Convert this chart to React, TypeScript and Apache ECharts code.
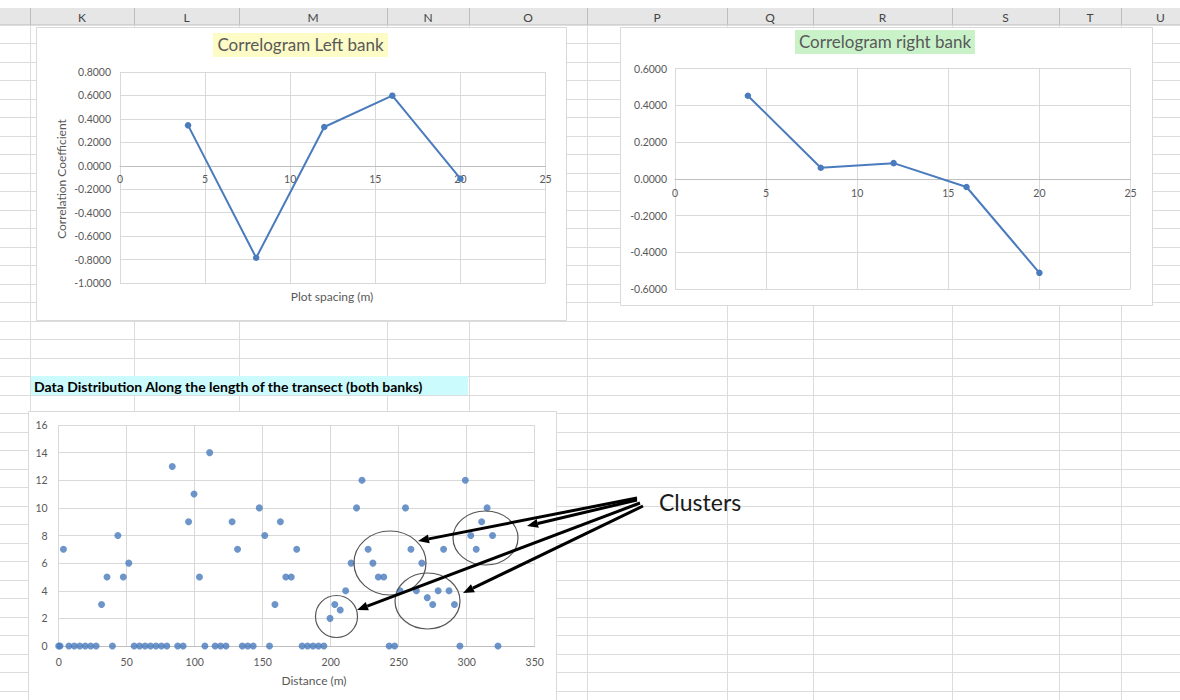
import React, { useEffect, useRef } from "react";
import * as echarts from "echarts";

// ---------- data ----------
const lagSpacing = [4, 8, 12, 16, 20];
const leftBankCorr = [0.345, -0.785, 0.331, 0.598, -0.11];
const rightBankCorr = [0.452, 0.06, 0.085, -0.045, -0.512];

const distance = [
  0, 1, 3.5, 7.5, 11.5, 15.5, 19.5, 23.5, 27.5, 31.5, 35.5, 39.5, 43.5, 47.5, 51.5,
  55.5, 59.5, 63.5, 67.5, 71.5, 75.5, 79.5, 83.5, 87.5, 91.5, 95.5, 99.5, 103.5, 107.5, 111,
  115, 119, 123, 127.5, 131.5, 135, 139, 143, 147.5, 151.5, 155, 159, 163, 167, 171,
  175, 179, 183, 187, 191, 195, 199.5, 203, 207, 211, 215, 219, 223, 227.5, 231,
  235, 239, 243, 247, 251, 255, 259, 263, 267, 271, 275, 279, 283, 287, 291,
  295, 299, 303, 307, 311, 315, 319, 323,
];
const countValue = [
  0, 0, 7, 0, 0, 0, 0, 0, 0, 3, 5, 0, 8, 5, 6,
  0, 0, 0, 0, 0, 0, 0, 13, 0, 0, 9, 11, 5, 0, 14,
  0, 0, 0, 9, 7, 0, 0, 0, 10, 8, 0, 3, 9, 5, 5,
  7, 0, 0, 0, 0, 0, 2, 3, 2.6, 4, 6, 10, 12, 7, 6,
  5, 5, 0, 0, 4, 10, 7, 4, 6, 3.5, 3, 4, 7, 4, 3,
  0, 12, 8, 7, 9, 10, 8, 0,
];

const columnLetters = ["K", "L", "M", "N", "O", "P", "Q", "R", "S", "T", "U"];

const titleLeft = "Correlogram Left bank";
const titleRight = "Correlogram right bank";
const titleScatter = "Data Distribution Along the length of the transect (both banks)";
const leftYName = "Correlation Coefficient";
const leftXName = "Plot spacing (m)";
const scatterXName = "Distance (m)";
const clusterLabel = "Clusters";

// ---------- layout ----------
const FONT = "Lato, 'Open Sans', sans-serif";
const BLUE = "#4a7bbd";
const LABEL = "#595959";
const colEdges = [30, 134, 239, 387, 469, 587, 727, 813, 952, 1059, 1121, 1200];

// grid geometry (pixels)
const G0 = { left: 120, top: 72, width: 425.5, height: 211 };
const G1 = { left: 675, top: 68.5, width: 455.5, height: 220.5 };
const G2 = { left: 58.7, top: 425, width: 476, height: 221 };
// offset that puts a bottom x axis on the y=0 line of a grid
const zeroOffset = (g: { top: number; height: number }, min: number, max: number) =>
  -(g.height * (0 - min)) / (max - min);

function arrow(x1: number, y1: number, x2: number, y2: number) {
  const ang = Math.atan2(y2 - y1, x2 - x1);
  const L = 11;
  const W = 4.5;
  const bx = x2 - L * Math.cos(ang);
  const by = y2 - L * Math.sin(ang);
  const px = -Math.sin(ang) * W;
  const py = Math.cos(ang) * W;
  return [
    { type: "line", z: 60, shape: { x1, y1, x2: bx, y2: by }, style: { stroke: "#000", lineWidth: 3 } },
    {
      type: "polygon",
      z: 60,
      shape: { points: [[x2, y2], [bx + px, by + py], [bx - px, by - py]] },
      style: { fill: "#000" },
    },
  ];
}

function sheetGraphics() {
  const g: any[] = [];
  g.push({ type: "rect", z: -30, shape: { x: 0, y: 0, width: 1180, height: 700 }, style: { fill: "#fff" } });
  g.push({ type: "rect", z: -29, shape: { x: 0, y: 8, width: 1180, height: 17 }, style: { fill: "#e6e6e6" } });
  g.push({ type: "line", z: -28, shape: { x1: 0, y1: 25, x2: 1180, y2: 25 }, style: { stroke: "#bdbdbd", lineWidth: 1 } });
  for (let k = 1; k < 37; k++) {
    const y = Math.round(24.5 + 18.5 * k) + 0.5;
    g.push({ type: "line", z: -28, shape: { x1: 0, y1: y, x2: 1180, y2: y }, style: { stroke: "#dcdcdc", lineWidth: 1 } });
  }
  colEdges.slice(0, -1).forEach((x) => {
    g.push({ type: "line", z: -28, shape: { x1: x + 0.5, y1: 8, x2: x + 0.5, y2: 25 }, style: { stroke: "#bdbdbd", lineWidth: 1 } });
    g.push({ type: "line", z: -28, shape: { x1: x + 0.5, y1: 25, x2: x + 0.5, y2: 700 }, style: { stroke: "#dcdcdc", lineWidth: 1 } });
  });
  columnLetters.forEach((c, i) => {
    g.push({
      type: "text",
      z: -27,
      x: (colEdges[i] + colEdges[i + 1]) / 2,
      y: 17,
      style: { text: c, fill: "#444", font: `12px ${FONT}`, align: "center", verticalAlign: "middle" },
    });
  });
  // chart areas
  const box = (x: number, y: number, w: number, h: number) => ({
    type: "rect",
    z: -20,
    shape: { x: x + 0.5, y: y + 0.5, width: w, height: h },
    style: { fill: "#fff", stroke: "#d9d9d9", lineWidth: 1 },
  });
  g.push(box(36, 27, 530, 293));
  g.push(box(620, 27, 532, 278));
  g.push(box(28, 411, 528, 300));
  // titles with highlight
  g.push({ type: "rect", z: -15, shape: { x: 213, y: 33, width: 175, height: 24 }, style: { fill: "#fdfbc6" } });
  g.push({
    type: "text", z: -14, x: 300.5, y: 44.5,
    style: { text: titleLeft, fill: LABEL, font: `17px ${FONT}`, align: "center", verticalAlign: "middle" },
  });
  g.push({ type: "rect", z: -15, shape: { x: 795, y: 30, width: 180, height: 24 }, style: { fill: "#c9f2c9" } });
  g.push({
    type: "text", z: -14, x: 885, y: 41.5,
    style: { text: titleRight, fill: LABEL, font: `17px ${FONT}`, align: "center", verticalAlign: "middle" },
  });
  g.push({ type: "rect", z: -15, shape: { x: 31, y: 376, width: 437, height: 19 }, style: { fill: "#ccfbfd" } });
  g.push({
    type: "text", z: -14, x: 34, y: 386,
    style: { text: titleScatter, fill: "#000", font: `bold 14px ${FONT}`, align: "left", verticalAlign: "middle" },
  });
  // axis titles
  g.push({
    type: "text", z: 5, x: 61, y: 179, rotation: Math.PI / 2,
    style: { text: leftYName, fill: LABEL, font: `12px ${FONT}`, align: "center", verticalAlign: "middle" },
  });
  g.push({
    type: "text", z: 5, x: 332, y: 296,
    style: { text: leftXName, fill: LABEL, font: `12px ${FONT}`, align: "center", verticalAlign: "middle" },
  });
  g.push({
    type: "text", z: 5, x: 314, y: 680,
    style: { text: scatterXName, fill: LABEL, font: `12px ${FONT}`, align: "center", verticalAlign: "middle" },
  });
  // cluster annotations
  const ell = (cx: number, cy: number, rx: number, ry: number) => ({
    type: "ellipse", z: 55, shape: { cx, cy, rx, ry },
    style: { fill: "none", stroke: "#555", lineWidth: 1.2 },
  });
  g.push(ell(336.5, 616.5, 21, 21));
  g.push(ell(390, 563, 36, 32));
  g.push(ell(427.5, 601, 32.5, 28));
  g.push(ell(485.5, 538, 32.5, 27));
  g.push(...arrow(637, 498, 418, 541));
  g.push(...arrow(637, 500, 527, 526));
  g.push(...arrow(640, 503, 357, 610));
  g.push(...arrow(643, 506, 463, 593));
  g.push({
    type: "text", z: 60, x: 659, y: 502,
    style: { text: clusterLabel, fill: "#1a1a1a", font: `23px ${FONT}`, align: "left", verticalAlign: "middle" },
  });
  return g;
}

const fmt4 = (v: number) => (Math.abs(v) < 1e-9 ? "0.0000" : v.toFixed(4));

const splitStyle = { show: true, lineStyle: { color: "#d9d9d9", width: 1 } };
const labelStyle = (extra: any = {}) => ({ color: LABEL, fontSize: 10.5, fontFamily: FONT, ...extra });

export default function App() {
  const ref = useRef<HTMLDivElement>(null);
  useEffect(() => {
    if (!ref.current) return;
    const chart = echarts.init(ref.current, undefined, { renderer: "svg" });
    const leftData = lagSpacing.map((x, i) => [x, leftBankCorr[i]]);
    const rightData = lagSpacing.map((x, i) => [x, rightBankCorr[i]]);
    const scatterData = distance.map((x, i) => [x, countValue[i]]);
    chart.setOption({
      animation: false,
      backgroundColor: "#fff",
      textStyle: { fontFamily: FONT },
      grid: [
        { ...G0, outerBoundsMode: "none" },
        { ...G1, outerBoundsMode: "none" },
        { ...G2, outerBoundsMode: "none" },
      ],
      xAxis: [
        {
          gridIndex: 0, type: "value", min: 0, max: 25, interval: 5,
          position: "bottom", offset: zeroOffset(G0, -1, 0.8),
          axisLine: { show: true, onZero: false, lineStyle: { color: "#bfbfbf" } },
          axisTick: { show: false },
          axisLabel: labelStyle({ margin: 8 }),
          splitLine: splitStyle,
        },
        {
          gridIndex: 1, type: "value", min: 0, max: 25, interval: 5,
          position: "bottom", offset: zeroOffset(G1, -0.6, 0.6),
          axisLine: { show: true, onZero: false, lineStyle: { color: "#bfbfbf" } },
          axisTick: { show: false },
          axisLabel: labelStyle({ margin: 9 }),
          splitLine: splitStyle,
        },
        {
          gridIndex: 2, type: "value", min: 0, max: 350, interval: 50,
          axisLine: { show: true, onZero: false, lineStyle: { color: "#bfbfbf" } },
          axisTick: { show: false },
          axisLabel: labelStyle({ margin: 10 }),
          splitLine: splitStyle,
        },
      ],
      yAxis: [
        {
          gridIndex: 0, type: "value", min: -1, max: 0.8, interval: 0.2,
          axisLine: { show: false, onZero: false }, axisTick: { show: false },
          axisLabel: labelStyle({ margin: 9, formatter: fmt4 }),
          splitLine: splitStyle,
        },
        {
          gridIndex: 1, type: "value", min: -0.6, max: 0.6, interval: 0.2,
          axisLine: { show: false, onZero: false }, axisTick: { show: false },
          axisLabel: labelStyle({ margin: 8, formatter: fmt4 }),
          splitLine: splitStyle,
        },
        {
          gridIndex: 2, type: "value", min: 0, max: 16, interval: 2,
          axisLine: { show: false, onZero: false }, axisTick: { show: false },
          axisLabel: labelStyle({ margin: 11 }),
          splitLine: splitStyle,
        },
      ],
      series: [
        {
          type: "line", xAxisIndex: 0, yAxisIndex: 0, data: leftData,
          symbol: "circle", symbolSize: 6.5, z: 10,
          lineStyle: { color: BLUE, width: 2 }, itemStyle: { color: BLUE },
        },
        {
          type: "line", xAxisIndex: 1, yAxisIndex: 1, data: rightData,
          symbol: "circle", symbolSize: 6.5, z: 10,
          lineStyle: { color: BLUE, width: 2 }, itemStyle: { color: BLUE },
        },
        {
          type: "scatter", xAxisIndex: 2, yAxisIndex: 2, data: scatterData,
          symbol: "circle", symbolSize: 7, z: 10, itemStyle: { color: BLUE },
        },
      ],
      graphic: { elements: sheetGraphics() },
    });
    return () => chart.dispose();
  }, []);
  return (
    <div
      ref={ref}
      style={{ position: "absolute", left: 0, top: 0, width: 1180, height: 700 }}
    />
  );
}
